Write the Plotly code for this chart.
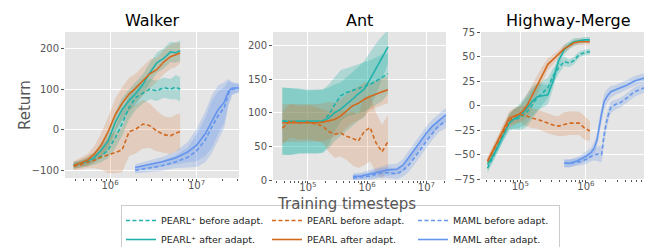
import plotly.graph_objects as go

# ---------------- data ----------------
# Walker
walker_pearl_t = [3.8e5, 4.57e5, 5.5e5, 6.6e5, 7.9e5, 9.5e5, 1.15e6, 1.38e6, 1.66e6, 2.0e6,
                  2.4e6, 2.88e6, 3.47e6, 4.17e6, 5.0e6, 5.75e6, 6.45e6]
walker_pearlp_before = [-88, -85, -80, -74, -65, -50, -20, 15, 55, 80, 90, 100, 96, 104, 100, 105, 100]
walker_pearlp_before_sd = [8, 8, 10, 12, 15, 20, 25, 30, 30, 30, 25, 25, 25, 25, 25, 30, 30]
walker_pearlp_after = [-87, -83, -78, -68, -50, -28, 18, 50, 72, 90, 112, 140, 165, 176, 192, 190, 195]
walker_pearlp_after_sd = [8, 8, 10, 12, 18, 22, 25, 28, 28, 28, 25, 25, 25, 25, 25, 25, 25]
walker_pearl_before = [-90, -86, -80, -75, -68, -62, -57, -50, -5, 2, 14, 10, -3, -12, -15, -8, -5]
walker_pearl_before_sd = [10, 12, 15, 20, 30, 45, 50, 55, 60, 60, 60, 55, 50, 45, 45, 45, 45]
walker_pearl_after = [-88, -82, -75, -60, -38, -5, 37, 65, 88, 104, 120, 138, 148, 167, 180, 185, 189]
walker_pearl_after_sd = [10, 12, 15, 20, 30, 35, 40, 40, 40, 35, 35, 35, 30, 30, 30, 30, 25]
walker_maml_t = [1.95e6, 2.8e6, 4.0e6, 5.6e6, 7.9e6, 1.0e7, 1.26e7, 1.51e7, 1.78e7, 2.09e7,
                 2.34e7, 2.57e7, 3.09e7]
walker_maml_before = [-100, -95, -89, -80, -68, -52, -25, 8, 35, 55, 90, 100, 103]
walker_maml_after = [-93, -86, -79, -70, -55, -38, -10, 22, 50, 68, 95, 103, 103]
walker_maml_sd = [8, 10, 12, 15, 25, 40, 55, 65, 60, 50, 30, 15, 10]

# Ant
ant_pearl_t = [3.7e4, 5.0e4, 7.1e4, 1.0e5, 1.41e5, 1.78e5, 2.24e5, 2.82e5, 3.55e5, 4.47e5,
               5.62e5, 7.08e5, 8.91e5, 1.12e6, 1.41e6, 1.78e6, 2.24e6]
ant_pearlp_before = [88, 87, 87, 86, 86, 87, 97, 112, 125, 130, 133, 135, 138, 142, 147, 152, 158]
ant_pearlp_before_sd = [50, 50, 48, 47, 47, 47, 45, 40, 38, 36, 36, 36, 36, 36, 35, 35, 30]
ant_pearlp_after = [87, 87, 88, 87, 87, 88, 92, 100, 105, 112, 120, 128, 135, 150, 165, 182, 198]
ant_pearlp_after_sd = [50, 50, 48, 47, 47, 47, 45, 42, 40, 40, 40, 40, 42, 40, 38, 32, 25]
ant_pearl_before = [77, 88, 85, 86, 83, 80, 72, 68, 70, 65, 62, 58, 72, 78, 55, 42, 57]
ant_pearl_before_sd = [25, 25, 25, 25, 25, 25, 30, 35, 35, 35, 40, 40, 50, 50, 45, 40, 40]
ant_pearl_after = [85, 85, 84, 85, 85, 86, 88, 90, 95, 103, 110, 114, 120, 124, 128, 131, 134]
ant_pearl_after_sd = [28, 28, 28, 28, 28, 28, 28, 25, 25, 25, 25, 25, 25, 20, 20, 20, 20]
ant_maml_t = [5.75e5, 7.9e5, 1.12e6, 1.58e6, 2.24e6, 3.16e6, 4.0e6, 5.0e6, 6.3e6, 7.9e6,
              1.0e7, 1.26e7, 1.58e7, 2.0e7, 2.19e7]
ant_maml_before = [3, 4, 6, 10, 11, 9, 14, 22, 33, 45, 58, 70, 80, 86, 87]
ant_maml_after = [5, 6, 9, 12, 15, 16, 22, 33, 45, 58, 70, 80, 88, 95, 97]
ant_maml_sd = [5, 5, 6, 7, 8, 8, 9, 10, 10, 10, 10, 10, 10, 10, 10]

# Highway-Merge
hw_pearl_t = [3.16e4, 3.8e4, 4.47e4, 5.5e4, 6.76e4, 7.94e4, 9.55e4, 1.12e5, 1.29e5, 1.51e5,
              1.82e5, 2.19e5, 2.63e5, 3.16e5, 3.8e5, 4.68e5, 5.62e5, 6.6e5, 7.94e5, 9.55e5, 1.15e6]
hw_pearlp_before = [-64, -53, -43, -30, -16, -14, -13, -10, -6, 1, 8, 13, 18, 30, 38, 45, 43, 46, 52, 54, 55]
hw_pearlp_before_sd = [5, 5, 5, 6, 8, 10, 12, 14, 15, 15, 14, 12, 10, 8, 6, 5, 4, 4, 3, 3, 3]
hw_pearlp_after = [-60, -52, -43, -30, -18, -14, -11, -7, -2, 4, 9, 10, 11, 25, 45, 57, 62, 65, 66, 67, 67]
hw_pearlp_after_sd = [5, 5, 5, 6, 8, 10, 12, 14, 15, 15, 14, 12, 10, 8, 6, 5, 4, 4, 3, 3, 3]
hw_pearl_before = [-57, -47, -37, -26, -16, -12, -9, -10, -11, -13, -14, -16, -18, -20, -21, -19, -18, -18, -18, -23, -26]
hw_pearl_before_sd = [4, 5, 5, 6, 7, 8, 8, 10, 10, 10, 10, 10, 10, 10, 10, 12, 12, 12, 12, 12, 10]
hw_pearl_after = [-57, -46, -37, -25, -13, -11, -9, -5, 1, 10, 21, 32, 42, 47, 52, 58, 61, 64, 65, 65, 65]
hw_pearl_after_sd = [4, 5, 5, 6, 7, 8, 8, 10, 12, 12, 10, 8, 6, 5, 4, 4, 3, 3, 3, 3, 3]
hw_maml_t = [4.68e5, 5.62e5, 7.08e5, 8.3e5, 1.0e6, 1.2e6, 1.35e6, 1.48e6, 1.58e6, 1.74e6,
             1.9e6, 2.14e6, 2.4e6, 2.82e6, 3.39e6, 4.27e6, 5.5e6, 6.6e6, 7.76e6, 9.1e6, 1.1e7, 1.17e7]
hw_maml_before = [-59, -59, -58, -57, -55, -52, -50, -50, -49, -50, -30, -12, -2, 1, 3, 8, 14, 16, 18, 20, 25, 24]
hw_maml_after = [-59, -59, -57, -55, -52, -48, -43, -35, -23, -8, 4, 10, 14, 16, 18, 21, 25, 27, 28, 29, 30, 29]
hw_maml_sd = [4, 4, 4, 4, 5, 5, 6, 7, 8, 8, 8, 7, 6, 5, 5, 5, 5, 5, 5, 5, 5, 5]

titles = ["Walker", "Ant", "Highway-Merge"]
legend_names = {
    "pp_b": "PEARL\u207a before adapt.", "pp_a": "PEARL\u207a after adapt.",
    "p_b": "PEARL before adapt.", "p_a": "PEARL after adapt.",
    "m_b": "MAML before adapt.", "m_a": "MAML after adapt.",
}

# ---------------- styling ----------------
TEAL = "#20b2aa"
ORANGE = "#d2691e"
BLUE = "#6495ed"
FILL = {TEAL: "rgba(32,178,170,0.28)", ORANGE: "rgba(210,105,30,0.2)", BLUE: "rgba(100,149,237,0.25)"}
FONT = "DejaVu Sans"
GRAY = "#555555"

W, H = 652, 247
PH = 190  # plot-area height in px (bottom margin holds the legend)
domains = [
    dict(x=(57, 231), y=(24, 170)),
    dict(x=(265, 438), y=(24, 172)),
    dict(x=(473, 648), y=(24, 171)),
]
xranges = [(5.48, 7.49), (4.41, 7.33), (4.40, 7.07)]
yranges = [(-119, 241), (0, 220), (-75, 75)]
ytick_vals = [[-100, 0, 100, 200], [0, 50, 100, 150, 200], [-75, -50, -25, 0, 25, 50, 75]]
xtick_exps = [[6, 7], [5, 6, 7], [5, 6, 7]]

panels = [
    (walker_pearl_t, walker_maml_t,
     [(walker_pearlp_before, walker_pearlp_before_sd), (walker_pearlp_after, walker_pearlp_after_sd),
      (walker_pearl_before, walker_pearl_before_sd), (walker_pearl_after, walker_pearl_after_sd)],
     walker_maml_before, walker_maml_after, walker_maml_sd),
    (ant_pearl_t, ant_maml_t,
     [(ant_pearlp_before, ant_pearlp_before_sd), (ant_pearlp_after, ant_pearlp_after_sd),
      (ant_pearl_before, ant_pearl_before_sd), (ant_pearl_after, ant_pearl_after_sd)],
     ant_maml_before, ant_maml_after, ant_maml_sd),
    (hw_pearl_t, hw_maml_t,
     [(hw_pearlp_before, hw_pearlp_before_sd), (hw_pearlp_after, hw_pearlp_after_sd),
      (hw_pearl_before, hw_pearl_before_sd), (hw_pearl_after, hw_pearl_after_sd)],
     hw_maml_before, hw_maml_after, hw_maml_sd),
]

fig = go.Figure()


def band(x, y, sd, color, xa, ya):
    up = [a + b for a, b in zip(y, sd)]
    lo = [a - b for a, b in zip(y, sd)]
    fig.add_trace(go.Scatter(x=list(x) + list(x)[::-1], y=up + lo[::-1], fill="toself",
                             fillcolor=FILL[color], line=dict(width=0), mode="lines",
                             showlegend=False, hoverinfo="skip", xaxis=xa, yaxis=ya))


group = {"pp_b": "g1", "pp_a": "g1", "p_b": "g2", "p_a": "g2", "m_b": "g3", "m_a": "g3"}
rank = {"pp_b": 1, "pp_a": 2, "p_b": 3, "p_a": 4, "m_b": 5, "m_a": 6}
for i, (pt, mt, pearl, mb, ma, msd) in enumerate(panels):
    xa = "x" if i == 0 else f"x{i+1}"
    ya = "y" if i == 0 else f"y{i+1}"
    band(pt, pearl[0][0], pearl[0][1], TEAL, xa, ya)
    band(pt, pearl[1][0], pearl[1][1], TEAL, xa, ya)
    band(pt, pearl[2][0], pearl[2][1], ORANGE, xa, ya)
    band(pt, pearl[3][0], pearl[3][1], ORANGE, xa, ya)
    band(mt, mb, msd, BLUE, xa, ya)
    band(mt, ma, msd, BLUE, xa, ya)
    show = i == 0
    for key, x, y, c, d in [("pp_b", pt, pearl[0][0], TEAL, "dash"), ("pp_a", pt, pearl[1][0], TEAL, "solid"),
                            ("p_b", pt, pearl[2][0], ORANGE, "dash"), ("p_a", pt, pearl[3][0], ORANGE, "solid"),
                            ("m_b", mt, mb, BLUE, "dash"), ("m_a", mt, ma, BLUE, "solid")]:
        fig.add_trace(go.Scatter(x=x, y=y, mode="lines", name=legend_names[key], showlegend=show,
                                 legendrank=rank[key], legendgroup=group[key],
                                 line=dict(color=c, width=1.6, dash="4px,2.5px" if d == "dash" else "solid"),
                                 xaxis=xa, yaxis=ya))

    dom = domains[i]
    xdom = [dom["x"][0] / W, dom["x"][1] / W]
    ydom = [1 - dom["y"][1] / PH, 1 - dom["y"][0] / PH]
    exps = xtick_exps[i]
    minor_vals = [m * 10 ** e for e in range(4, 8) for m in range(2, 10)]
    fig.layout[("xaxis" if i == 0 else f"xaxis{i+1}")] = dict(
        domain=xdom, type="log", range=list(xranges[i]), anchor=ya, automargin=False,
        tickmode="array", tickvals=[10 ** e for e in exps],
        ticktext=[f"10<sup>{e}</sup>" for e in exps],
        showgrid=True, gridcolor="white", gridwidth=1, zeroline=False,
        ticks="outside", ticklen=3, tickcolor=GRAY, tickfont=dict(family=FONT, size=10, color=GRAY),
        ticklabelstandoff=-5,
        minor=dict(tickmode="array", tickvals=minor_vals, ticks="outside", ticklen=2,
                   tickcolor=GRAY, showgrid=False),
        showline=False, fixedrange=True,
    )
    fig.layout[("yaxis" if i == 0 else f"yaxis{i+1}")] = dict(
        domain=ydom, range=list(yranges[i]), anchor=xa, automargin=False,
        tickmode="array", tickvals=ytick_vals[i],
        showgrid=True, gridcolor="white", gridwidth=1, zeroline=False,
        ticks="outside", ticklen=3, tickcolor=GRAY, tickfont=dict(family=FONT, size=10, color=GRAY),
        showline=False, fixedrange=True,
    )

annotations = []
centers = [144, 351, 560]
for t, cx in zip(titles, centers):
    annotations.append(dict(text=t, x=cx / W, y=1 - 13 / PH, xref="paper", yref="paper",
                            showarrow=False, font=dict(family=FONT, size=16, color="black"),
                            xanchor="center", yanchor="middle"))
annotations.append(dict(text="Return", x=17 / W, y=1 - 97 / PH, xref="paper", yref="paper",
                        showarrow=False, textangle=-90,
                        font=dict(family=FONT, size=15, color=GRAY),
                        xanchor="center", yanchor="middle"))
annotations.append(dict(text="Training timesteps", x=338 / W, y=1 - 195.5 / PH, xref="paper", yref="paper",
                        showarrow=False, font=dict(family=FONT, size=15, color=GRAY),
                        xanchor="center", yanchor="middle"))

fig.update_layout(
    template="none",
    width=W, height=H, margin=dict(l=0, r=0, t=0, b=H - PH, autoexpand=False),
    paper_bgcolor="white", plot_bgcolor="#e5e5e5",
    annotations=annotations,
    legend=dict(orientation="h", x=113 / W, y=1 - 197 / PH, xanchor="left", yanchor="top",
                entrywidth=101, entrywidthmode="pixels", itemwidth=30,
                font=dict(family=FONT, size=9.5, color="#222"),
                bgcolor="white", bordercolor="#cccccc", borderwidth=1,
                tracegroupgap=0, traceorder="grouped"),
    showlegend=True,
)

fig.write_html("out.html")
